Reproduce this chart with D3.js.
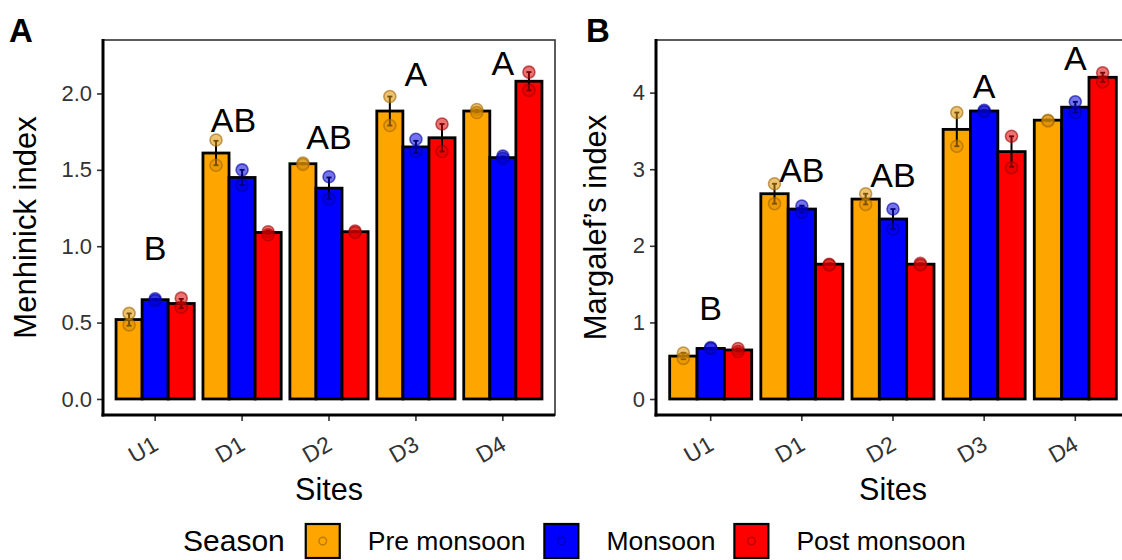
<!DOCTYPE html>
<html><head><meta charset="utf-8">
<script src="https://cdn.jsdelivr.net/npm/d3@7"></script>
<style>
html,body{margin:0;padding:0;background:#fff;}
text{font-family:"Liberation Sans",Arial,Helvetica,sans-serif;}
</style></head>
<body><svg id="c" width="1122" height="560"></svg>
<script>
// ---------- data ----------
const sites = ["U1","D1","D2","D3","D4"];
const seasons = ["Pre monsoon","Monsoon","Post monsoon"];
const seasonColors = ["#FFA500","#0000FF","#FF0000"];

// Panel A: Menhinick index
const menPre  = [0.52, 1.61, 1.54, 1.885, 1.885];
const menMon  = [0.65, 1.45, 1.38, 1.65, 1.58];
const menPost = [0.625, 1.09, 1.095, 1.71, 2.08];
const menPreSE  = [0.04, 0.08, 0.005, 0.095, 0.01];
const menMonSE  = [0.005, 0.05, 0.07, 0.04, 0.008];
const menPostSE = [0.03, 0.01, 0.005, 0.09, 0.06];
const menPrePts  = [[0.56,0.485],[1.695,1.53],[1.545,1.535],[1.98,1.79],[1.895,1.875]];
const menMonPts  = [[0.655,0.645],[1.50,1.40],[1.455,1.31],[1.70,1.62],[1.59,1.575]];
const menPostPts = [[0.66,0.60],[1.095,1.075],[1.10,1.09],[1.80,1.62],[2.14,2.02]];
const menLetters = ["B","AB","AB","A","A"];
const menLetterY = [0.99, 1.823, 1.717, 2.13, 2.20];
const menLetterNudge = [0, -0.1, 0, 0, 0];   // in site units
const menTicks = [0, 0.5, 1.0, 1.5, 2.0];

// Panel B: Margalef's index
const marPre  = [0.56, 2.68, 2.61, 3.52, 3.64];
const marMon  = [0.66, 2.48, 2.35, 3.76, 3.81];
const marPost = [0.64, 1.76, 1.76, 3.23, 4.20];
const marPreSE  = [0.04, 0.13, 0.07, 0.22, 0.01];
const marMonSE  = [0.005, 0.045, 0.13, 0.01, 0.07];
const marPostSE = [0.02, 0.01, 0.01, 0.20, 0.06];
const marPrePts  = [[0.60,0.53],[2.81,2.55],[2.68,2.54],[3.74,3.30],[3.64,3.63]];
const marMonPts  = [[0.67,0.66],[2.52,2.44],[2.48,2.22],[3.77,3.75],[3.88,3.74]];
const marPostPts = [[0.66,0.62],[1.76,1.75],[1.77,1.75],[3.43,3.02],[4.26,4.14]];
const marLetters = ["B","AB","AB","A","A"];
const marLetterY = [1.19, 2.99, 2.92, 4.09, 4.45];
const marLetterNudge = [0, 0, 0, 0, 0];
const marTicks = [0, 1, 2, 3, 4];

// ---------- layout ----------
const svg = d3.select("#c");
const panels = [
  {tag:"A", title:"Menhinick index", x0:103, x1:555, y0:40, y1:415, dom:[-0.105,2.35],
   ticks:menTicks, fmt:d3.format(".1f"), means:[menPre,menMon,menPost], ses:[menPreSE,menMonSE,menPostSE],
   pts:[menPrePts,menMonPts,menPostPts], letters:menLetters, letterY:menLetterY, nudge:menLetterNudge,
   tagX:9, titleX:36},
  {tag:"B", title:"Margalef\u2019s  index", x0:656, x1:1130, y0:40, y1:415, dom:[-0.209,4.687],
   ticks:marTicks, fmt:d3.format("d"), means:[marPre,marMon,marPost], ses:[marPreSE,marMonSE,marPostSE],
   pts:[marPrePts,marMonPts,marPostPts], letters:marLetters, letterY:marLetterY, nudge:marLetterNudge,
   tagX:586, titleX:606}
];

const dark = c => d3.color(c).darker(1.3).formatHex();

panels.forEach(p => {
  const x = d3.scaleBand().domain(sites).range([p.x0, p.x1]).paddingInner(0.1).paddingOuter(0.15);
  const xs = d3.scaleBand().domain(seasons).range([0, x.bandwidth()]);
  const y = d3.scaleLinear().domain(p.dom).range([p.y1, p.y0]);
  const g = svg.append("g");

  // panel border (top/right)
  g.append("rect").attr("x", p.x0).attr("y", p.y0).attr("width", p.x1 - p.x0).attr("height", p.y1 - p.y0)
    .attr("fill", "none").attr("stroke", "#333").attr("stroke-width", 1.6);

  // bars
  seasons.forEach((s, si) => {
    g.selectAll(null).data(sites).enter().append("rect")
      .attr("x", d => x(d) + xs(s))
      .attr("width", xs.bandwidth())
      .attr("y", (d, i) => y(p.means[si][i]))
      .attr("height", (d, i) => y(0) - y(p.means[si][i]))
      .attr("fill", seasonColors[si]).attr("stroke", "#000").attr("stroke-width", 2.8);
  });
  // error bars
  seasons.forEach((s, si) => {
    sites.forEach((d, i) => {
      const cx = x(d) + xs(s) + xs.bandwidth() / 2;
      const lo = y(p.means[si][i] - p.ses[si][i]), hi = y(p.means[si][i] + p.ses[si][i]);
      g.append("line").attr("x1", cx).attr("x2", cx).attr("y1", lo).attr("y2", hi)
        .attr("stroke", "#000").attr("stroke-width", 2);
      [lo, hi].forEach(v => g.append("line").attr("x1", cx - 2.5).attr("x2", cx + 2.5).attr("y1", v).attr("y2", v)
        .attr("stroke", "#000").attr("stroke-width", 1.8));
    });
  });
  // points
  seasons.forEach((s, si) => {
    sites.forEach((d, i) => {
      const cx = x(d) + xs(s) + xs.bandwidth() / 2;
      p.pts[si][i].forEach(v => {
        g.append("circle").attr("cx", cx).attr("cy", y(v)).attr("r", 6)
          .attr("fill", d3.color(seasonColors[si]).darker(0.4).formatHex()).attr("fill-opacity", 0.55)
          .attr("stroke", dark(seasonColors[si])).attr("stroke-opacity", 0.6).attr("stroke-width", 1.6);
      });
    });
  });
  // letters
  g.selectAll(null).data(sites).enter().append("text")
    .attr("x", (d, i) => x(d) + x.bandwidth() / 2 + p.nudge[i] * x.step())
    .attr("y", (d, i) => y(p.letterY[i]) + 12)
    .attr("text-anchor", "middle").attr("font-size", 34).attr("fill", "#000")
    .text((d, i) => p.letters[i]);

  // y axis
  const ya = g.append("g").attr("transform", `translate(${p.x0},0)`)
    .call(d3.axisLeft(y).tickValues(p.ticks).tickFormat(p.fmt).tickSize(6).tickPadding(5));
  ya.select(".domain").remove();
  ya.selectAll(".tick line").attr("stroke", "#333").attr("stroke-width", 1.6);
  ya.selectAll(".tick text").attr("font-size", 22).attr("fill", "#333").attr("font-family", null);
  g.append("line").attr("x1", p.x0).attr("x2", p.x0).attr("y1", p.y0 - 1).attr("y2", p.y1 + 1.5)
    .attr("stroke", "#000").attr("stroke-width", 3);

  // x axis
  const xa = g.append("g").attr("transform", `translate(0,${p.y1})`)
    .call(d3.axisBottom(x).tickSize(6).tickPadding(0));
  xa.select(".domain").remove();
  xa.selectAll(".tick line").attr("stroke", "#333").attr("stroke-width", 1.6);
  xa.selectAll(".tick text").attr("font-size", 23).attr("fill", "#333").attr("font-family", null)
    .attr("text-anchor", "end").attr("dy", null).attr("y", null)
    .attr("transform", "translate(-4,19) rotate(-30)").attr("dy", "0.75em");
  g.append("line").attr("x1", p.x0 - 1.5).attr("x2", p.x1).attr("y1", p.y1).attr("y2", p.y1)
    .attr("stroke", "#000").attr("stroke-width", 3);

  // titles
  g.append("text").attr("transform", `translate(${p.titleX},${(p.y0 + p.y1) / 2}) rotate(-90)`)
    .attr("text-anchor", "middle").attr("font-size", 31).attr("fill", "#000").text(p.title);
  g.append("text").attr("x", (p.x0 + p.x1) / 2).attr("y", 500)
    .attr("text-anchor", "middle").attr("font-size", 30.5).attr("fill", "#000").text("Sites");
  g.append("text").attr("x", p.tagX).attr("y", 42).attr("font-size", 33).attr("font-weight", "bold")
    .attr("fill", "#000").text(p.tag);
});

// legend
const lg = svg.append("g");
let lx = 183;
const ly = 541;
const t0 = lg.append("text").attr("x", lx).attr("y", ly + 10).attr("font-size", 30).attr("fill", "#000").text("Season");
lx += t0.node().getComputedTextLength() + 21;
seasons.forEach((s, si) => {
  lg.append("rect").attr("x", lx).attr("y", ly - 17).attr("width", 34).attr("height", 34)
    .attr("fill", seasonColors[si]).attr("stroke", "#000").attr("stroke-width", 2.2);
  lg.append("circle").attr("cx", lx + 17).attr("cy", ly).attr("r", 3.8)
    .attr("fill", "none").attr("stroke", dark(seasonColors[si])).attr("stroke-opacity", 0.7).attr("stroke-width", 1.4);
  lx += 34 + 28;
  const t = lg.append("text").attr("x", lx).attr("y", ly + 9).attr("font-size", 26.5).attr("fill", "#000").text(s);
  lx += t.node().getComputedTextLength() + 19;
});
</script></body></html>
